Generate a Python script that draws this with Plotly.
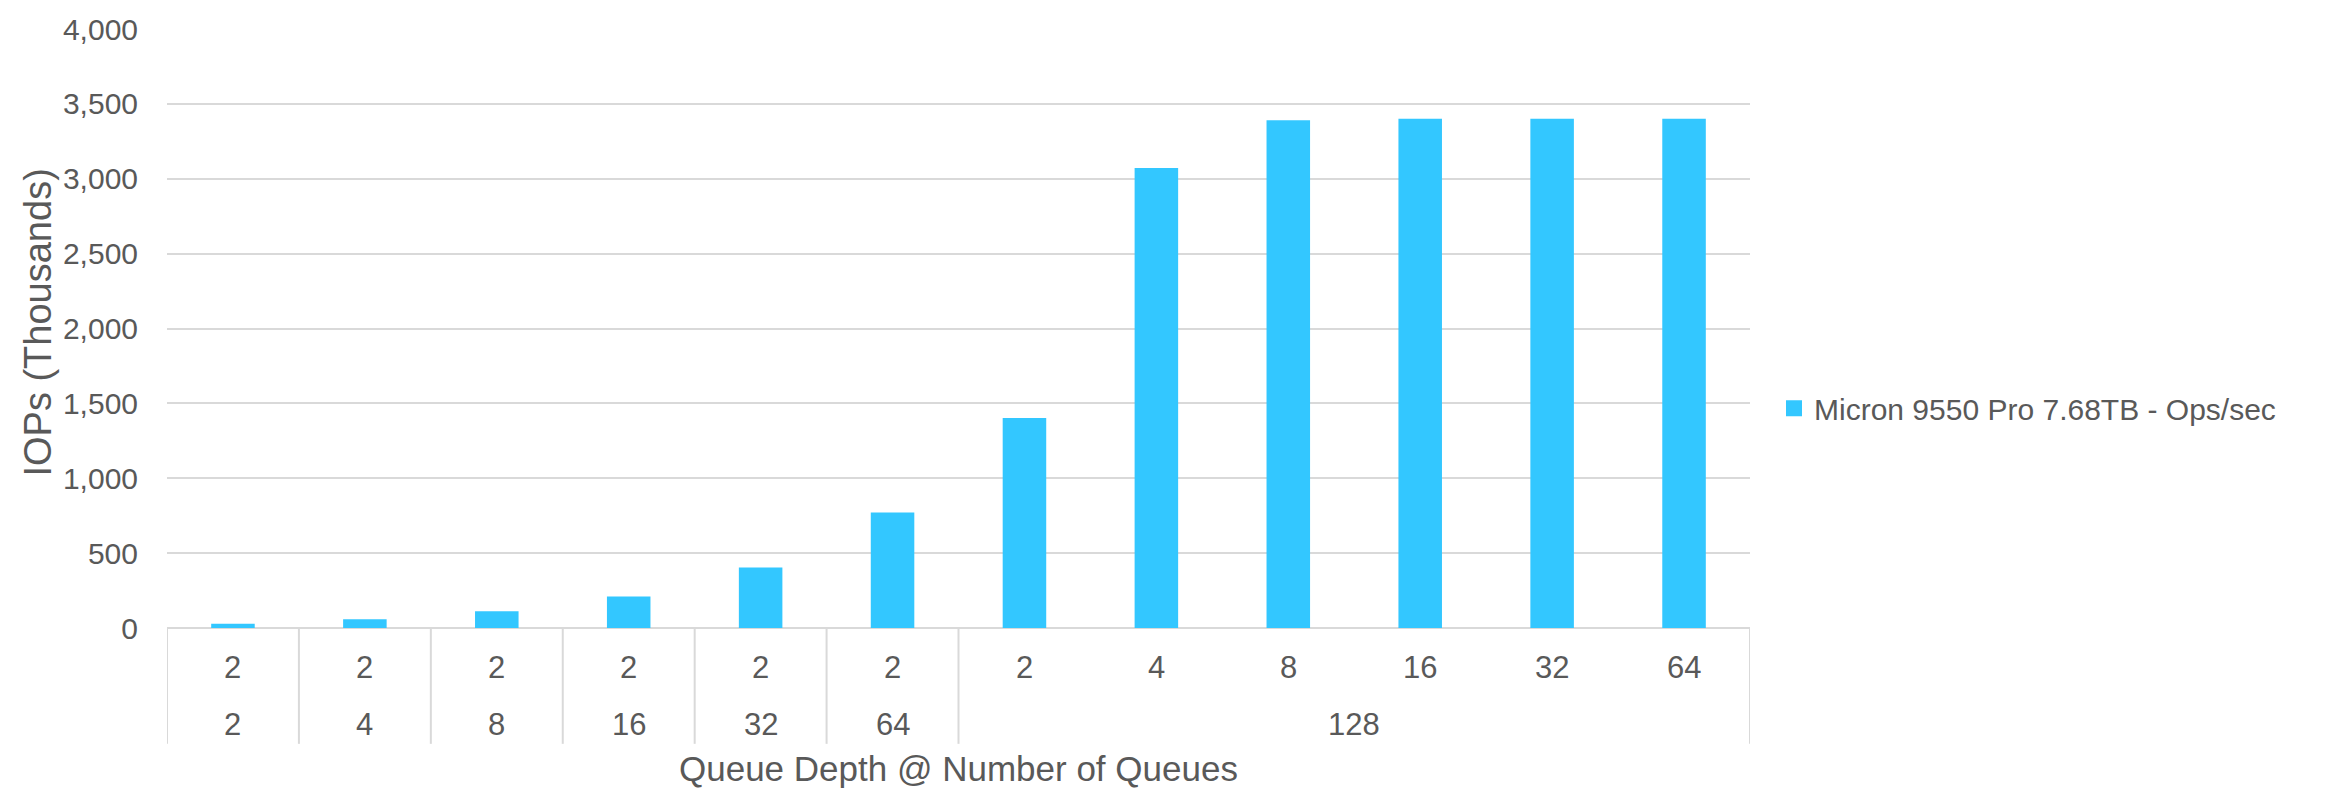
import plotly.graph_objects as go

# Queue depth (inner level) and number of queues (outer level) per test point
queue_depth = ["2", "2", "2", "2", "2", "2", "2", "4", "8", "16", "32", "64"]
num_queues = ["2", "4", "8", "16", "32", "64", "128", "128", "128", "128", "128", "128"]
# Random-read IOPs in thousands
iops_k = [28, 59, 112, 210, 404, 772, 1402, 3071, 3391, 3400, 3400, 3400]

series_name = "Micron 9550 Pro 7.68TB - Ops/sec"
y_ticks = [0, 500, 1000, 1500, 2000, 2500, 3000, 3500, 4000]

W, H = 2341, 791
M_L, M_R, M_T, M_B = 167, 591, 23, 163
PLOT_W = W - M_L - M_R
PLOT_H = H - M_T - M_B

TXT = "#595959"
GRID = "#d9d9d9"
BAR = "#33C7FF"
FONT = "Liberation Sans, Arial, sans-serif"


def py(px_below_axis):
    """Paper y for a pixel offset below the x axis line."""
    return -px_below_axis / PLOT_H


cats = [f"{d} @ {q}" for d, q in zip(queue_depth, num_queues)]

fig = go.Figure()
fig.add_trace(go.Bar(
    x=cats, y=iops_k, name=series_name,
    marker=dict(color=BAR, line=dict(width=0)),
    showlegend=False, legendgroup="s",
))
# legend key for the series (square swatch)
fig.add_trace(go.Scatter(
    x=[None], y=[None], mode="markers", name=series_name, legendgroup="s",
    marker=dict(symbol="square", size=18, color=BAR, line=dict(width=0)),
    showlegend=True,
))

annotations = []
# first row: queue depth under every bar
for c, d in zip(cats, queue_depth):
    annotations.append(dict(x=c, y=py(40), xref="x", yref="paper", text=d,
                            showarrow=False, xanchor="center", yanchor="middle",
                            font=dict(size=31, color=TXT, family=FONT)))

# second row: number of queues, one label centred on each group
groups = []
start = 0
for i in range(1, len(num_queues) + 1):
    if i == len(num_queues) or num_queues[i] != num_queues[start]:
        groups.append((start, i - 1, num_queues[start]))
        start = i
for a, b, lab in groups:
    annotations.append(dict(x=(a + b) / 2, y=py(97.5), xref="x", yref="paper", text=lab,
                            showarrow=False, xanchor="center", yanchor="middle",
                            font=dict(size=31, color=TXT, family=FONT)))

# axis titles
annotations.append(dict(x=0.5, y=py(141.5), xref="paper", yref="paper",
                        text="Queue Depth @ Number of Queues", showarrow=False,
                        xanchor="center", yanchor="middle",
                        font=dict(size=35, color=TXT, family=FONT)))
annotations.append(dict(x=(38 - M_L) / PLOT_W, y=0.5 + 6 / PLOT_H, xref="paper", yref="paper",
                        text="IOPs (Thousands)", showarrow=False, textangle=-90,
                        xanchor="center", yanchor="middle",
                        font=dict(size=38, color=TXT, family=FONT)))

# vertical dividers of the category axis: at every group boundary
shapes = []
for a, b, _ in groups:
    shapes.append(dict(type="line", xref="x", yref="paper", x0=a - 0.5, x1=a - 0.5,
                       y0=0, y1=py(117), line=dict(color=GRID, width=2)))
shapes.append(dict(type="line", xref="x", yref="paper",
                   x0=len(cats) - 0.5, x1=len(cats) - 0.5,
                   y0=0, y1=py(117), line=dict(color=GRID, width=2)))

fig.update_layout(
    width=W, height=H,
    margin=dict(l=M_L, r=M_R, t=M_T, b=M_B, pad=0),
    paper_bgcolor="white", plot_bgcolor="white",
    bargap=0.67,
    font=dict(family=FONT, color=TXT, size=30),
    xaxis=dict(type="category", range=[-0.5, len(cats) - 0.5], showticklabels=False,
               showgrid=False, zeroline=False, showline=False, ticks=""),
    yaxis=dict(range=[0, 4000], tickvals=y_ticks, tickformat=",d",
               showgrid=True, gridcolor=GRID, gridwidth=2,
               zeroline=True, zerolinecolor=GRID, zerolinewidth=2,
               showline=False, ticks="", ticklabelstandoff=28,
               tickfont=dict(size=30, color=TXT, family=FONT)),
    legend=dict(x=(1774 - M_L) / PLOT_W, xanchor="left",
                y=(PLOT_H - (406 - M_T)) / PLOT_H, yanchor="middle",
                font=dict(size=30, color=TXT, family=FONT),
                bgcolor="rgba(0,0,0,0)", borderwidth=0),
    annotations=annotations,
    shapes=shapes,
)

fig.write_html("out.html")
